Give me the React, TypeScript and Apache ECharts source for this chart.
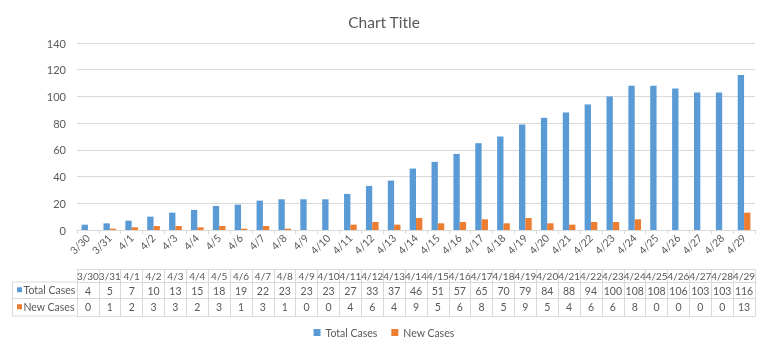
import React, { useEffect, useRef } from "react";
import * as echarts from "echarts";

const categories = ["3/30","3/31","4/1","4/2","4/3","4/4","4/5","4/6","4/7","4/8","4/9","4/10","4/11","4/12","4/13","4/14","4/15","4/16","4/17","4/18","4/19","4/20","4/21","4/22","4/23","4/24","4/25","4/26","4/27","4/28","4/29"];
const totalCases = [4,5,7,10,13,15,18,19,22,23,23,23,27,33,37,46,51,57,65,70,79,84,88,94,100,108,108,106,103,103,116];
const newCases = [0,1,2,3,3,2,3,1,3,1,0,0,4,6,4,9,5,6,8,5,9,5,4,6,6,8,0,0,0,0,13];
const seriesNames = ["Total Cases", "New Cases"];
const colors = ["#5B9BD5", "#ED7D31"];

const FONT = "Lato, 'Liberation Sans', sans-serif";
const TEXT = "#595959";
const LINE = "#D9D9D9";

export default function App() {
  const ref = useRef<HTMLDivElement>(null);
  useEffect(() => {
    const chart = echarts.init(ref.current!, undefined, { renderer: "svg" });
    const gridBottomY = 230;
    const rowTops = [269, 282, 298.5, 316];
    const tableAxis = (offsetY: number, tickLen: number, labels: ((v: any, i: number) => string) | null, margin: number, fontSize: number) => ({
      type: "category",
      data: categories,
      position: "bottom",
      offset: offsetY - gridBottomY,
      boundaryGap: true,
      axisLine: { show: true, onZero: false, lineStyle: { color: LINE, width: 1 } },
      axisTick: { show: tickLen > 0, interval: 0, length: tickLen, lineStyle: { color: LINE } },
      axisLabel: labels
        ? { show: true, interval: 0, margin, color: TEXT, fontSize, fontFamily: FONT, formatter: labels, hideOverlap: false }
        : { show: false },
      splitLine: { show: false },
    });
    const leftX = 12.5;
    const gridLeft = 77;
    chart.setOption({
      animation: false,
      textStyle: { fontFamily: FONT },
      title: {
        text: "Chart Title",
        left: "center",
        top: 9,
        textStyle: { color: TEXT, fontSize: 15.5, fontWeight: "normal", fontFamily: FONT },
      },
      legend: {
        bottom: 13,
        left: "center",
        icon: "rect",
        itemWidth: 7,
        itemHeight: 7,
        itemGap: 14,
        itemTextGap: 4,
        textStyle: { color: TEXT, fontSize: 10.5, fontFamily: FONT },
        data: seriesNames,
      },
      grid: { left: gridLeft, right: 13, top: 43, bottom: 356 - gridBottomY, containLabel: false },
      xAxis: [
        {
          type: "category",
          data: categories,
          boundaryGap: true,
          axisLine: { show: true, lineStyle: { color: LINE } },
          axisTick: { show: true, interval: 0, length: 4, lineStyle: { color: LINE } },
          axisLabel: { interval: 0, rotate: 45, color: TEXT, fontSize: 10.5, fontFamily: FONT, margin: 6 },
        },
        tableAxis(rowTops[0], rowTops[1] - rowTops[0], (_v: any, i: number) => categories[i], 1.5, 10),
        tableAxis(rowTops[1], rowTops[2] - rowTops[1], (_v: any, i: number) => String(totalCases[i]), 3, 10.5),
        tableAxis(rowTops[2], rowTops[3] - rowTops[2], (_v: any, i: number) => String(newCases[i]), 3, 10.5),
        tableAxis(rowTops[3], 0, null, 0, 10),
      ],
      yAxis: {
        type: "value",
        min: 0,
        max: 140,
        interval: 20,
        axisLine: { show: false },
        axisTick: { show: false },
        axisLabel: { color: TEXT, fontSize: 11, fontFamily: FONT, margin: 11 },
        splitLine: { lineStyle: { color: LINE } },
      },
      series: [
        { name: seriesNames[0], type: "bar", data: totalCases, itemStyle: { color: colors[0] }, barGap: "0%", barCategoryGap: "42%" },
        { name: seriesNames[1], type: "bar", data: newCases, itemStyle: { color: colors[1] }, barGap: "0%", barCategoryGap: "42%" },
      ],
      graphic: [
        { type: "line", shape: { x1: leftX, y1: rowTops[1], x2: gridLeft, y2: rowTops[1] }, style: { stroke: LINE, lineWidth: 1 } },
        { type: "line", shape: { x1: leftX, y1: rowTops[2], x2: gridLeft, y2: rowTops[2] }, style: { stroke: LINE, lineWidth: 1 } },
        { type: "line", shape: { x1: leftX, y1: rowTops[3], x2: gridLeft, y2: rowTops[3] }, style: { stroke: LINE, lineWidth: 1 } },
        { type: "line", shape: { x1: leftX, y1: rowTops[1], x2: leftX, y2: rowTops[3] }, style: { stroke: LINE, lineWidth: 1 } },
        { type: "rect", shape: { x: 17, y: (rowTops[1] + rowTops[2]) / 2 - 3, width: 5, height: 5 }, style: { fill: colors[0] } },
        { type: "rect", shape: { x: 17, y: (rowTops[2] + rowTops[3]) / 2 - 3, width: 5, height: 5 }, style: { fill: colors[1] } },
        { type: "text", x: 23.5, y: (rowTops[1] + rowTops[2]) / 2, style: { text: seriesNames[0], fill: TEXT, fontSize: 10.5, fontFamily: FONT, verticalAlign: "middle" } },
        { type: "text", x: 23.5, y: (rowTops[2] + rowTops[3]) / 2, style: { text: seriesNames[1], fill: TEXT, fontSize: 10.5, fontFamily: FONT, verticalAlign: "middle" } },
      ],
    });
    return () => chart.dispose();
  }, []);
  return <div ref={ref} style={{ position: "fixed", left: 0, top: 0, width: 768, height: 356 }} />;
}
